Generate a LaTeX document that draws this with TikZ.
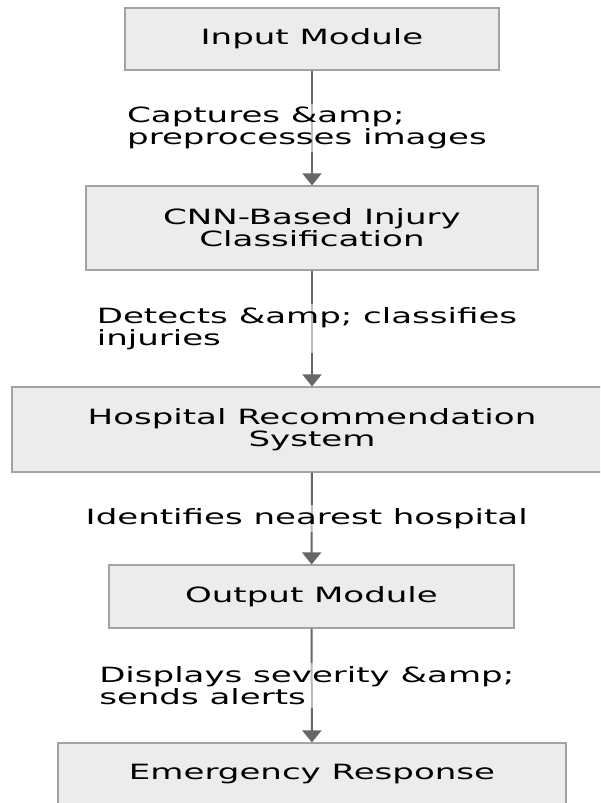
\documentclass[tikz,border=0pt]{standalone}
\usepackage{fontspec}
\setmainfont{DejaVu Sans}[FakeStretch=1.62]
\usetikzlibrary{arrows.meta}
\definecolor{boxfill}{HTML}{ECECEC}
\definecolor{boxline}{HTML}{A3A3A3}
\definecolor{arrline}{HTML}{666666}

\begin{document}
\begin{tikzpicture}[x=1pt, y=-1pt,
  blk/.style={draw=boxline, fill=boxfill, line width=1.2pt, align=center, inner sep=0pt, font=\fontsize{21}{22}\selectfont},
  lbl/.style={fill=white, fill opacity=0.55, text opacity=1, align=left, inner sep=3pt, xshift=-5pt, font=\fontsize{21}{22}\selectfont},
  arr/.style={draw=arrline, line width=2pt, -{Triangle[width=19pt,length=12pt]}}]
  \clip (0,0) rectangle (600,803);
              \node[blk, minimum width=374pt, minimum height=62pt] (input) at (312,39) {Input Module};
              \node[blk, minimum width=452pt, minimum height=84pt] (cnn) at (312,228) {CNN-Based Injury\\Classification};
              \node[blk, minimum width=600pt, minimum height=85pt] (hosp) at (312,429.5) {Hospital Recommendation\\System};
              \node[blk, minimum width=405pt, minimum height=63pt] (output) at (311.5,596.5) {Output Module};
              \node[blk, minimum width=508pt, minimum height=63pt] (emerg) at (312,774.5) {Emergency Response};

              \draw[arr] (input) -- node[lbl] (l1) {Captures \&amp;\\preprocesses images} (cnn);
              \draw[arr] (cnn) -- node[lbl] (l2) {Detects \&amp; classifies\\injuries} (hosp);
              \draw[arr] (hosp) -- node[lbl] (l3) {Identifies nearest hospital} (output);
              \draw[arr] (output) -- node[lbl] (l4) {Displays severity \&amp;\\sends alerts} (emerg);
            \end{tikzpicture}
\end{document}
